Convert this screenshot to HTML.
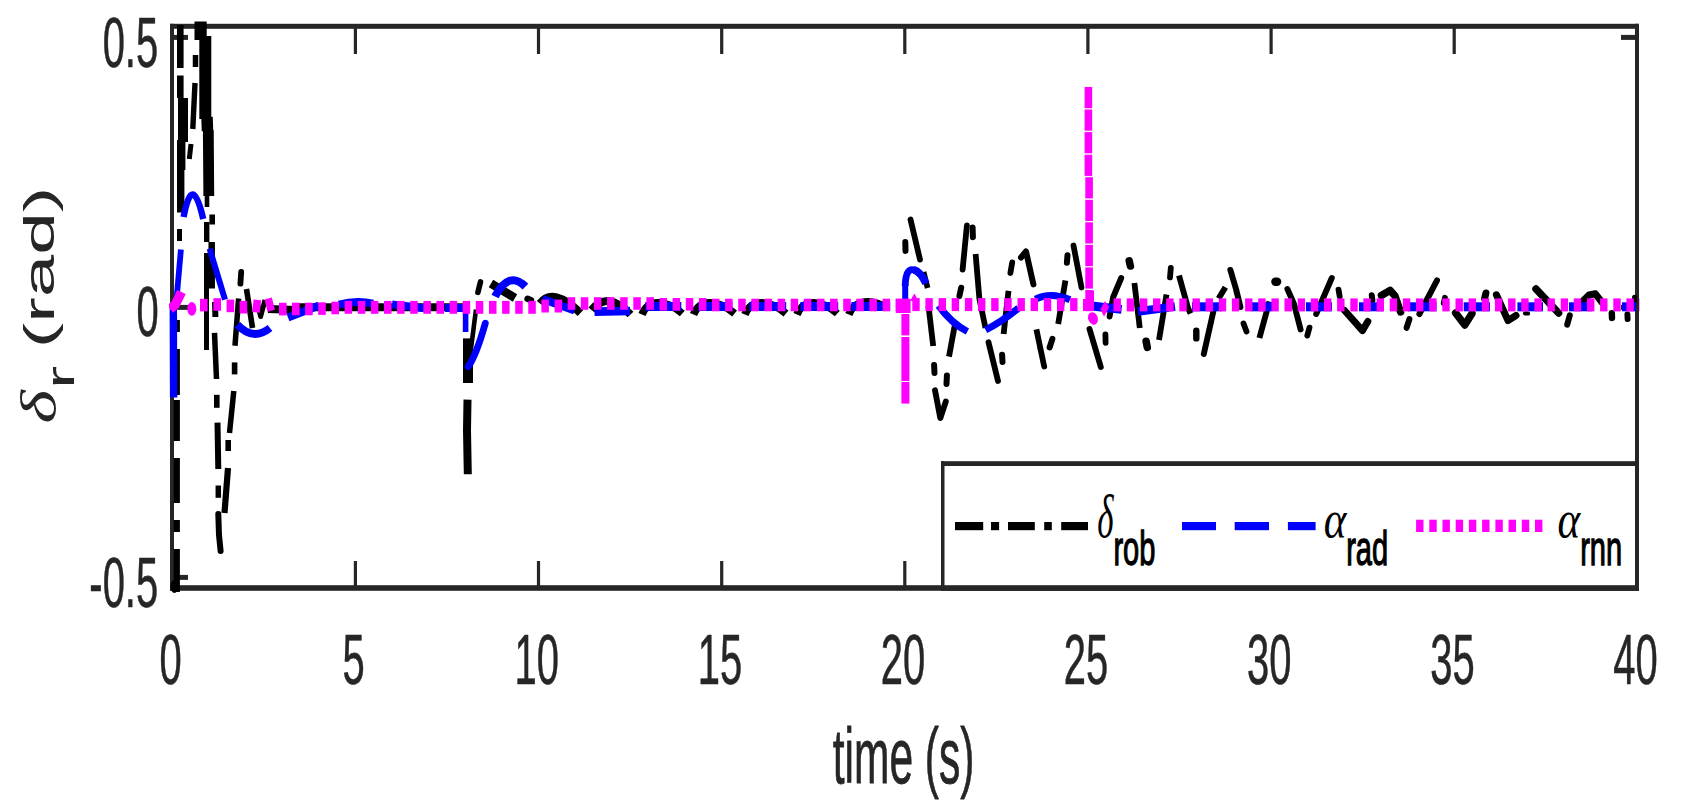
<!DOCTYPE html>
<html lang="en"><head><meta charset="utf-8"><title>delta_r plot</title>
<style>html,body{margin:0;padding:0;background:#fff}svg{display:block}</style></head>
<body>
<svg width="1693" height="810" viewBox="0 0 1693 810">
<rect x="0" y="0" width="1693" height="810" fill="#ffffff"/>
<rect x="170" y="23.8" width="1469" height="5" fill="#262626"/>
<rect x="170" y="585.2" width="1469" height="5.6" fill="#262626"/>
<rect x="170" y="23.8" width="4" height="567" fill="#262626"/>
<rect x="1635" y="23.8" width="4" height="567" fill="#262626"/>
<rect x="353.8" y="28" width="3.2" height="26" fill="#262626"/>
<rect x="353.8" y="561" width="3.2" height="25" fill="#262626"/>
<rect x="536.9" y="28" width="3.2" height="26" fill="#262626"/>
<rect x="536.9" y="561" width="3.2" height="25" fill="#262626"/>
<rect x="720.1" y="28" width="3.2" height="26" fill="#262626"/>
<rect x="720.1" y="561" width="3.2" height="25" fill="#262626"/>
<rect x="903.2" y="28" width="3.2" height="26" fill="#262626"/>
<rect x="903.2" y="561" width="3.2" height="25" fill="#262626"/>
<rect x="1086.3" y="28" width="3.2" height="26" fill="#262626"/>
<rect x="1086.3" y="561" width="3.2" height="25" fill="#262626"/>
<rect x="1269.5" y="28" width="3.2" height="26" fill="#262626"/>
<rect x="1269.5" y="561" width="3.2" height="25" fill="#262626"/>
<rect x="1452.6" y="28" width="3.2" height="26" fill="#262626"/>
<rect x="1452.6" y="561" width="3.2" height="25" fill="#262626"/>
<rect x="173" y="34.9" width="15" height="5" fill="#262626"/>
<rect x="1621" y="34.9" width="15" height="5" fill="#262626"/>
<rect x="173" y="304.9" width="15" height="5" fill="#262626"/>
<rect x="1621" y="304.9" width="15" height="5" fill="#262626"/>
<rect x="173" y="574.9" width="15" height="5" fill="#262626"/>
<rect x="1621" y="574.9" width="15" height="5" fill="#262626"/>
<defs><clipPath id="axclip"><rect x="169" y="21.5" width="1471" height="571.5"/></clipPath></defs>
<g clip-path="url(#axclip)" stroke-linejoin="round">
<line x1="176.8" y1="320.0" x2="176.8" y2="332.0" stroke="#000000" stroke-width="6.2" stroke-linecap="butt"/>
<line x1="176.8" y1="349.0" x2="176.8" y2="395.0" stroke="#000000" stroke-width="6.2" stroke-linecap="butt"/>
<line x1="176.8" y1="400.0" x2="176.8" y2="441.0" stroke="#000000" stroke-width="6.2" stroke-linecap="butt"/>
<line x1="176.8" y1="458.0" x2="176.8" y2="503.0" stroke="#000000" stroke-width="6.2" stroke-linecap="butt"/>
<line x1="176.8" y1="520.0" x2="176.8" y2="532.0" stroke="#000000" stroke-width="6.2" stroke-linecap="butt"/>
<line x1="176.8" y1="549.0" x2="176.8" y2="592.0" stroke="#000000" stroke-width="6.2" stroke-linecap="butt"/>
<ellipse cx="174.4" cy="586.5" rx="4" ry="6.5" fill="#000000"/>
<line x1="180.3" y1="25.0" x2="180.3" y2="68.0" stroke="#000000" stroke-width="6.6" stroke-linecap="butt"/>
<line x1="180.3" y1="75.5" x2="180.3" y2="98.0" stroke="#000000" stroke-width="6.6" stroke-linecap="butt"/>
<line x1="183.0" y1="98.0" x2="183.0" y2="142.0" stroke="#000000" stroke-width="10" stroke-linecap="butt"/>
<line x1="181.2" y1="140.0" x2="181.2" y2="170.0" stroke="#000000" stroke-width="8.4" stroke-linecap="butt"/>
<line x1="180.7" y1="170.0" x2="180.7" y2="212.6" stroke="#000000" stroke-width="7.4" stroke-linecap="butt"/>
<line x1="179.5" y1="229.0" x2="179.5" y2="241.0" stroke="#000000" stroke-width="5" stroke-linecap="butt"/>
<line x1="195.5" y1="55.0" x2="195.5" y2="67.0" stroke="#000000" stroke-width="5.5" stroke-linecap="butt"/>
<line x1="195.0" y1="83.0" x2="192.8" y2="129.0" stroke="#000000" stroke-width="5.4" stroke-linecap="butt"/>
<line x1="191.0" y1="144.0" x2="189.3" y2="159.0" stroke="#000000" stroke-width="5" stroke-linecap="butt"/>
<line x1="200.6" y1="21.0" x2="200.6" y2="40.0" stroke="#000000" stroke-width="12.2" stroke-linecap="butt"/>
<line x1="205.3" y1="36.0" x2="205.3" y2="119.0" stroke="#000000" stroke-width="12" stroke-linecap="butt"/>
<line x1="207.0" y1="117.0" x2="207.5" y2="131.0" stroke="#000000" stroke-width="11.5" stroke-linecap="butt"/>
<line x1="208.3" y1="130.0" x2="208.8" y2="196.0" stroke="#000000" stroke-width="10.8" stroke-linecap="butt"/>
<line x1="207.0" y1="196.0" x2="207.0" y2="207.0" stroke="#000000" stroke-width="4.6" stroke-linecap="butt"/>
<line x1="206.7" y1="222.0" x2="206.7" y2="242.0" stroke="#000000" stroke-width="5.4" stroke-linecap="butt"/>
<line x1="206.5" y1="253.0" x2="206.5" y2="350.0" stroke="#000000" stroke-width="5" stroke-linecap="butt"/>
<line x1="212.2" y1="214.4" x2="212.2" y2="224.6" stroke="#000000" stroke-width="5.6" stroke-linecap="butt"/>
<line x1="211.7" y1="242.0" x2="211.7" y2="288.5" stroke="#000000" stroke-width="6.5" stroke-linecap="butt"/>
<line x1="215.0" y1="302.0" x2="215.4" y2="317.0" stroke="#000000" stroke-width="6" stroke-linecap="butt"/>
<line x1="214.5" y1="332.8" x2="216.5" y2="379.0" stroke="#000000" stroke-width="5.5" stroke-linecap="butt"/>
<line x1="216.8" y1="394.8" x2="216.8" y2="407.8" stroke="#000000" stroke-width="5.6" stroke-linecap="butt"/>
<line x1="217.5" y1="422.6" x2="218.3" y2="469.0" stroke="#000000" stroke-width="6" stroke-linecap="butt"/>
<line x1="218.3" y1="485.5" x2="218.3" y2="497.8" stroke="#000000" stroke-width="5.5" stroke-linecap="butt"/>
<path d="M218.3,514.0 L219.0,535.0 L220.6,551.0" fill="none" stroke="#000000" stroke-width="6" stroke-linecap="round"/>
<line x1="224.5" y1="513.0" x2="228.0" y2="468.0" stroke="#000000" stroke-width="6.2" stroke-linecap="butt"/>
<line x1="228.2" y1="451.0" x2="228.2" y2="440.0" stroke="#000000" stroke-width="5.6" stroke-linecap="butt"/>
<line x1="229.5" y1="433.0" x2="233.8" y2="391.0" stroke="#000000" stroke-width="5.5" stroke-linecap="butt"/>
<line x1="234.6" y1="374.4" x2="234.6" y2="362.4" stroke="#000000" stroke-width="5.6" stroke-linecap="butt"/>
<line x1="235.0" y1="345.7" x2="238.6" y2="298.5" stroke="#000000" stroke-width="5.5" stroke-linecap="butt"/>
<line x1="240.4" y1="283.7" x2="241.2" y2="272.0" stroke="#000000" stroke-width="5.8" stroke-linecap="round"/>
<line x1="246.5" y1="289.0" x2="252.5" y2="328.0" stroke="#000000" stroke-width="5.6" stroke-linecap="butt"/>
<path d="M257.0,302.0 L260.6,316.5 L265.0,300.0" fill="none" stroke="#000000" stroke-width="5" stroke-linecap="butt"/>
<line x1="268.0" y1="309.0" x2="296.0" y2="310.0" stroke="#000000" stroke-width="8" stroke-linecap="butt"/>
<path d="M296,307.2 L463,307.2" fill="none" stroke="#000000" stroke-width="8"/>
<line x1="468.0" y1="338.4" x2="468.0" y2="383.0" stroke="#000000" stroke-width="10" stroke-linecap="butt"/>
<path d="M467.5,399.6 L467.0,430.0 L467.8,474.3" fill="none" stroke="#000000" stroke-width="8" stroke-linecap="butt"/>
<line x1="470.3" y1="354.0" x2="476.0" y2="309.5" stroke="#000000" stroke-width="4.6" stroke-linecap="butt"/>
<line x1="477.9" y1="292.4" x2="480.5" y2="281.9" stroke="#000000" stroke-width="5.6" stroke-linecap="round"/>
<line x1="491.0" y1="283.5" x2="515.0" y2="298.0" stroke="#000000" stroke-width="8.5" stroke-linecap="butt"/>
<line x1="527.6" y1="298.8" x2="530.9" y2="300.2" stroke="#000000" stroke-width="6.5" stroke-linecap="round"/>
<path d="M540.0,303.5 Q553.0,286.5 580.5,313.0" fill="none" stroke="#000000" stroke-width="8" stroke-linecap="butt"/>
<path d="M591.5,310.0 Q608.0,290.0 630.5,314.5" fill="none" stroke="#000000" stroke-width="8" stroke-linecap="butt"/>
<path d="M642.0,314.5 C648.0,299.5 665.0,298.5 682.3,313.5" fill="none" stroke="#000000" stroke-width="7.6"/>
<path d="M693.5,314.5 C699.5,299.5 716.5,298.5 734.6,313.5" fill="none" stroke="#000000" stroke-width="7.6"/>
<path d="M744.9,314.5 C750.9,299.5 767.9,298.5 786.0,313.5" fill="none" stroke="#000000" stroke-width="7.6"/>
<path d="M797.0,314.5 C803.0,299.5 820.0,298.5 837.3,313.5" fill="none" stroke="#000000" stroke-width="7.6"/>
<path d="M848.8,314.5 C854.8,299.5 871.8,298.5 887.0,308" fill="none" stroke="#000000" stroke-width="7.6"/>
<line x1="905.3" y1="242.1" x2="905.5" y2="250.9" stroke="#000000" stroke-width="6" stroke-linecap="round"/>
<path d="M910.5,219.5 L920.0,259.6" fill="none" stroke="#000000" stroke-width="5.8" stroke-linecap="round"/>
<line x1="923.6" y1="272.0" x2="927.6" y2="288.0" stroke="#000000" stroke-width="5.6" stroke-linecap="butt"/>
<line x1="928.5" y1="306.0" x2="933.2" y2="346.0" stroke="#000000" stroke-width="5.8" stroke-linecap="butt"/>
<line x1="934.1" y1="365.1" x2="934.5" y2="372.9" stroke="#000000" stroke-width="6" stroke-linecap="round"/>
<path d="M935.0,390.3 L940.3,418.0 L945.8,401.6" fill="none" stroke="#000000" stroke-width="5.9" stroke-linecap="round"/>
<line x1="946.5" y1="383.9" x2="946.9" y2="375.6" stroke="#000000" stroke-width="6" stroke-linecap="round"/>
<line x1="949.0" y1="356.6" x2="955.5" y2="321.3" stroke="#000000" stroke-width="5.8" stroke-linecap="butt"/>
<line x1="959.4" y1="296.2" x2="961.2" y2="287.7" stroke="#000000" stroke-width="6" stroke-linecap="round"/>
<path d="M962.6,269.6 L966.9,225.5" fill="none" stroke="#000000" stroke-width="5.8" stroke-linecap="round"/>
<line x1="972.6" y1="227.6" x2="972.9" y2="237.2" stroke="#000000" stroke-width="6" stroke-linecap="round"/>
<path d="M975.6,254.0 L979.4,299.0 L985.5,328.0" fill="none" stroke="#000000" stroke-width="5.8" stroke-linecap="butt"/>
<path d="M988.5,342.2 L998.0,381.0" fill="none" stroke="#000000" stroke-width="5.8" stroke-linecap="round"/>
<line x1="1002.1" y1="354.7" x2="1002.5" y2="361.9" stroke="#000000" stroke-width="6" stroke-linecap="round"/>
<line x1="1003.6" y1="334.0" x2="1008.5" y2="290.8" stroke="#000000" stroke-width="5.8" stroke-linecap="butt"/>
<line x1="1010.4" y1="273.0" x2="1012.2" y2="262.4" stroke="#000000" stroke-width="5.8" stroke-linecap="round"/>
<path d="M1021.0,257.5 L1026.0,251.5 L1033.4,284.4" fill="none" stroke="#000000" stroke-width="6" stroke-linecap="round"/>
<line x1="1036.4" y1="329.3" x2="1040.5" y2="349.0" stroke="#000000" stroke-width="5.8" stroke-linecap="butt"/>
<path d="M1040.5,349.0 L1044.2,366.5" fill="none" stroke="#000000" stroke-width="5.8" stroke-linecap="round"/>
<line x1="1049.6" y1="347.5" x2="1052.4" y2="338.8" stroke="#000000" stroke-width="6" stroke-linecap="round"/>
<line x1="1058.2" y1="324.0" x2="1065.4" y2="280.5" stroke="#000000" stroke-width="5.8" stroke-linecap="butt"/>
<line x1="1066.9" y1="262.7" x2="1067.5" y2="255.3" stroke="#000000" stroke-width="6" stroke-linecap="round"/>
<path d="M1073.5,245.5 L1081.5,287.5" fill="none" stroke="#000000" stroke-width="5.8" stroke-linecap="round"/>
<path d="M1089.5,329.0 L1100.8,367.0" fill="none" stroke="#000000" stroke-width="5.9" stroke-linecap="round"/>
<line x1="1105.4" y1="334.4" x2="1105.6" y2="342.8" stroke="#000000" stroke-width="5.8" stroke-linecap="round"/>
<path d="M1109.6,316.5 L1113.2,297.0 L1121.2,278.0" fill="none" stroke="#000000" stroke-width="5.9" stroke-linecap="round"/>
<line x1="1129.2" y1="260.8" x2="1130.4" y2="266.0" stroke="#000000" stroke-width="7.5" stroke-linecap="round"/>
<line x1="1134.4" y1="283.0" x2="1139.8" y2="328.0" stroke="#000000" stroke-width="5.8" stroke-linecap="butt"/>
<line x1="1146.1" y1="341.2" x2="1147.3" y2="347.4" stroke="#000000" stroke-width="7.5" stroke-linecap="round"/>
<line x1="1159.0" y1="340.0" x2="1166.5" y2="294.5" stroke="#000000" stroke-width="5.8" stroke-linecap="butt"/>
<line x1="1170.0" y1="277.4" x2="1170.8" y2="268.0" stroke="#000000" stroke-width="5.8" stroke-linecap="round"/>
<path d="M1179.0,275.5 L1188.0,308.0 L1190.6,313.5" fill="none" stroke="#000000" stroke-width="5.9" stroke-linecap="butt"/>
<line x1="1196.3" y1="330.8" x2="1196.3" y2="338.4" stroke="#000000" stroke-width="6.4" stroke-linecap="round"/>
<path d="M1203.8,354.0 L1214.0,308.7" fill="none" stroke="#000000" stroke-width="5.9" stroke-linecap="round"/>
<line x1="1218.6" y1="298.6" x2="1225.4" y2="287.2" stroke="#000000" stroke-width="5.9" stroke-linecap="butt"/>
<path d="M1230.4,270.0 L1236.0,289.0 L1240.4,307.0" fill="none" stroke="#000000" stroke-width="6" stroke-linecap="round"/>
<line x1="1243.5" y1="323.5" x2="1246.5" y2="331.5" stroke="#000000" stroke-width="5.8" stroke-linecap="round"/>
<line x1="1259.4" y1="338.0" x2="1269.4" y2="301.5" stroke="#000000" stroke-width="5.9" stroke-linecap="butt"/>
<line x1="1275.4" y1="281.7" x2="1277.1" y2="281.7" stroke="#000000" stroke-width="8.4" stroke-linecap="round"/>
<path d="M1287.4,289.0 L1294.0,304.0 L1300.6,329.5" fill="none" stroke="#000000" stroke-width="5.9" stroke-linecap="round"/>
<line x1="1309.5" y1="327.6" x2="1307.3" y2="335.6" stroke="#000000" stroke-width="5.8" stroke-linecap="round"/>
<path d="M1316.2,314.0 L1331.8,278.0" fill="none" stroke="#000000" stroke-width="5.9" stroke-linecap="round"/>
<line x1="1338.5" y1="289.6" x2="1339.7" y2="296.4" stroke="#000000" stroke-width="5.8" stroke-linecap="round"/>
<path d="M1344.6,310.5 L1362.5,330.6 L1367.8,321.5" fill="none" stroke="#000000" stroke-width="7" stroke-linecap="round"/>
<line x1="1371.8" y1="295.3" x2="1372.4" y2="300.3" stroke="#000000" stroke-width="6" stroke-linecap="round"/>
<path d="M1381.4,295.5 L1390.0,290.3 L1395.0,296.0 L1400.6,312.0" fill="none" stroke="#000000" stroke-width="7.4" stroke-linecap="round"/>
<line x1="1409.4" y1="319.2" x2="1406.6" y2="327.8" stroke="#000000" stroke-width="6" stroke-linecap="round"/>
<path d="M1419.4,314.0 L1437.0,280.4" fill="none" stroke="#000000" stroke-width="6" stroke-linecap="round"/>
<line x1="1444.9" y1="297.8" x2="1443.7" y2="303.2" stroke="#000000" stroke-width="5.8" stroke-linecap="round"/>
<path d="M1455.6,313.0 L1464.8,325.0 L1472.0,313.6" fill="none" stroke="#000000" stroke-width="7.4" stroke-linecap="round"/>
<line x1="1485.9" y1="293.0" x2="1484.6" y2="298.6" stroke="#000000" stroke-width="7" stroke-linecap="round"/>
<path d="M1496.4,294.8 L1508.0,320.6 L1516.0,315.5" fill="none" stroke="#000000" stroke-width="7" stroke-linecap="round"/>
<line x1="1524.9" y1="313.4" x2="1528.1" y2="313.6" stroke="#000000" stroke-width="4" stroke-linecap="round"/>
<path d="M1536.0,289.0 L1558.6,313.0" fill="none" stroke="#000000" stroke-width="7.4" stroke-linecap="round"/>
<line x1="1569.8" y1="315.4" x2="1567.2" y2="324.6" stroke="#000000" stroke-width="6" stroke-linecap="round"/>
<path d="M1583.4,300.4 L1589.0,295.0 L1595.4,293.8 L1602.2,302.6" fill="none" stroke="#000000" stroke-width="7" stroke-linecap="round"/>
<line x1="1611.8" y1="313.2" x2="1612.0" y2="318.0" stroke="#000000" stroke-width="6.4" stroke-linecap="round"/>
<line x1="1627.4" y1="314.5" x2="1627.6" y2="319.1" stroke="#000000" stroke-width="5.9" stroke-linecap="round"/>
<line x1="1634.5" y1="297.3" x2="1634.5" y2="300.7" stroke="#000000" stroke-width="5" stroke-linecap="round"/>
<line x1="173.3" y1="304.0" x2="173.6" y2="397.6" stroke="#0000ff" stroke-width="7.4" stroke-linecap="butt"/>
<line x1="176.2" y1="303.0" x2="180.9" y2="249.6" stroke="#0000ff" stroke-width="5.8" stroke-linecap="butt"/>
<path d="M183.6,217.0 Q192.4,171.0 203.2,219.0" fill="none" stroke="#0000ff" stroke-width="6.4" stroke-linecap="butt"/>
<line x1="209.6" y1="248.7" x2="225.0" y2="299.6" stroke="#0000ff" stroke-width="6" stroke-linecap="butt"/>
<path d="M237.4,324.6 Q253.0,341.5 270.0,328.0" fill="none" stroke="#0000ff" stroke-width="7.6" stroke-linecap="butt"/>
<line x1="288.0" y1="317.4" x2="319.0" y2="305.4" stroke="#0000ff" stroke-width="8" stroke-linecap="butt"/>
<path d="M339.0,304.6 Q356.0,300.0 373.0,303.6" fill="none" stroke="#0000ff" stroke-width="8" stroke-linecap="butt"/>
<line x1="392.0" y1="304.4" x2="424.0" y2="308.2" stroke="#0000ff" stroke-width="8" stroke-linecap="butt"/>
<line x1="445.0" y1="308.0" x2="464.0" y2="308.0" stroke="#0000ff" stroke-width="8" stroke-linecap="butt"/>
<line x1="465.6" y1="306.0" x2="465.6" y2="332.0" stroke="#0000ff" stroke-width="5.6" stroke-linecap="butt"/>
<path d="M468.2,366.5 Q476.0,356.0 485.3,323.2" fill="none" stroke="#0000ff" stroke-width="6.8" stroke-linecap="round"/>
<path d="M495.0,296.5 Q509.0,270.0 525.4,286.6" fill="none" stroke="#0000ff" stroke-width="8" stroke-linecap="butt"/>
<line x1="542.5" y1="299.0" x2="574.6" y2="310.4" stroke="#0000ff" stroke-width="8" stroke-linecap="butt"/>
<line x1="594.5" y1="311.6" x2="630.0" y2="311.0" stroke="#0000ff" stroke-width="8.6" stroke-linecap="butt"/>
<line x1="645.4" y1="306.4" x2="681.3" y2="306.4" stroke="#0000ff" stroke-width="9" stroke-linecap="butt"/>
<line x1="698.3" y1="306.4" x2="732.3" y2="306.4" stroke="#0000ff" stroke-width="9" stroke-linecap="butt"/>
<line x1="749.3" y1="306.4" x2="786.2" y2="306.4" stroke="#0000ff" stroke-width="9" stroke-linecap="butt"/>
<line x1="800.4" y1="306.4" x2="838.2" y2="306.4" stroke="#0000ff" stroke-width="9" stroke-linecap="butt"/>
<line x1="851.4" y1="306.4" x2="890.2" y2="306.4" stroke="#0000ff" stroke-width="9" stroke-linecap="butt"/>
<path d="M905.2,300.0 L905.2,284.0" fill="none" stroke="#0000ff" stroke-width="6" stroke-linecap="butt"/>
<path d="M905.2,286.0 Q905.6,267.0 914.5,270.0" fill="none" stroke="#0000ff" stroke-width="6.8" stroke-linecap="butt"/>
<path d="M913.6,269.8 Q920.5,271.5 926.0,283.5" fill="none" stroke="#0000ff" stroke-width="7.6" stroke-linecap="butt"/>
<path d="M938.6,305.6 Q951.0,323.0 967.4,331.5" fill="none" stroke="#0000ff" stroke-width="7" stroke-linecap="butt"/>
<path d="M985.6,330.0 Q1003.0,321.0 1018.6,308.0" fill="none" stroke="#0000ff" stroke-width="7" stroke-linecap="butt"/>
<path d="M1035.4,299.2 Q1051.0,291.6 1070.0,299.8" fill="none" stroke="#0000ff" stroke-width="7" stroke-linecap="butt"/>
<line x1="1091.7" y1="306.0" x2="1121.6" y2="309.4" stroke="#0000ff" stroke-width="9" stroke-linecap="butt"/>
<line x1="1138.0" y1="311.5" x2="1175.0" y2="306.5" stroke="#0000ff" stroke-width="8.4" stroke-linecap="butt"/>
<line x1="1192.0" y1="306.8" x2="1222.0" y2="306.8" stroke="#0000ff" stroke-width="9" stroke-linecap="butt"/>
<line x1="1250.6" y1="306.8" x2="1272.4" y2="306.8" stroke="#0000ff" stroke-width="9" stroke-linecap="butt"/>
<line x1="1306.0" y1="306.8" x2="1332.0" y2="306.8" stroke="#0000ff" stroke-width="9" stroke-linecap="butt"/>
<line x1="1359.0" y1="306.8" x2="1383.6" y2="306.8" stroke="#0000ff" stroke-width="9" stroke-linecap="butt"/>
<line x1="1408.0" y1="306.8" x2="1436.5" y2="306.8" stroke="#0000ff" stroke-width="9" stroke-linecap="butt"/>
<line x1="1463.7" y1="306.8" x2="1490.0" y2="306.8" stroke="#0000ff" stroke-width="9" stroke-linecap="butt"/>
<line x1="1517.4" y1="306.8" x2="1543.0" y2="306.8" stroke="#0000ff" stroke-width="9" stroke-linecap="butt"/>
<line x1="1569.0" y1="306.8" x2="1592.0" y2="306.8" stroke="#0000ff" stroke-width="9" stroke-linecap="butt"/>
<line x1="1622.0" y1="306.8" x2="1636.0" y2="306.8" stroke="#0000ff" stroke-width="9" stroke-linecap="butt"/>
<path d="M170.0,309.0 L175.0,305.0 L181.5,292.0" fill="none" stroke="#ff00ff" stroke-width="9.5" stroke-linecap="butt"/>
<ellipse cx="191.8" cy="308.8" rx="4.6" ry="6.9" fill="#ff00ff"/>
<rect x="200.0" y="298.8" width="7.6" height="12.6" fill="#ff00ff"/>
<rect x="213.4" y="298.2" width="7.6" height="12.6" fill="#ff00ff"/>
<rect x="226.6" y="299.6" width="7.6" height="12.6" fill="#ff00ff"/>
<rect x="239.6" y="300.9" width="7.6" height="12.6" fill="#ff00ff"/>
<rect x="-3.8" y="-6.3" width="7.6" height="12.6" fill="#ff00ff" transform="translate(256.7,306.2) rotate(6)"/>
<rect x="-3.8" y="-6.3" width="7.6" height="12.6" fill="#ff00ff" transform="translate(269.7,304.6) rotate(-14)"/>
<rect x="279.0" y="302.8" width="7.6" height="12.6" fill="#ff00ff"/>
<rect x="292.0" y="302.7" width="7.6" height="12.6" fill="#ff00ff"/>
<rect x="305.1" y="302.7" width="7.6" height="12.6" fill="#ff00ff"/>
<rect x="318.2" y="302.3" width="7.6" height="12.6" fill="#ff00ff"/>
<rect x="331.4" y="301.7" width="7.6" height="12.6" fill="#ff00ff"/>
<rect x="344.6" y="300.9" width="7.5" height="12.9" fill="#ff00ff"/>
<rect x="357.8" y="300.9" width="7.5" height="12.9" fill="#ff00ff"/>
<rect x="370.9" y="300.9" width="7.5" height="12.9" fill="#ff00ff"/>
<rect x="384.0" y="300.9" width="7.5" height="12.9" fill="#ff00ff"/>
<rect x="397.1" y="300.9" width="7.5" height="12.9" fill="#ff00ff"/>
<rect x="410.2" y="300.9" width="7.5" height="12.9" fill="#ff00ff"/>
<rect x="423.4" y="300.9" width="7.5" height="12.9" fill="#ff00ff"/>
<rect x="436.5" y="300.9" width="7.5" height="12.9" fill="#ff00ff"/>
<rect x="449.6" y="300.9" width="7.5" height="12.9" fill="#ff00ff"/>
<rect x="462.7" y="300.9" width="7.5" height="12.9" fill="#ff00ff"/>
<rect x="475.8" y="300.9" width="7.5" height="12.9" fill="#ff00ff"/>
<rect x="489.0" y="300.9" width="7.5" height="12.9" fill="#ff00ff"/>
<rect x="502.1" y="300.9" width="7.5" height="12.9" fill="#ff00ff"/>
<rect x="515.2" y="300.9" width="7.5" height="12.9" fill="#ff00ff"/>
<rect x="528.3" y="300.9" width="7.5" height="12.9" fill="#ff00ff"/>
<rect x="541.4" y="299.6" width="7.5" height="12.9" fill="#ff00ff"/>
<rect x="554.6" y="299.6" width="7.5" height="12.9" fill="#ff00ff"/>
<rect x="567.7" y="297.2" width="7.5" height="12.6" fill="#ff00ff"/>
<rect x="580.8" y="297.2" width="7.5" height="12.6" fill="#ff00ff"/>
<rect x="593.9" y="297.2" width="7.5" height="12.6" fill="#ff00ff"/>
<rect x="607.0" y="297.2" width="7.5" height="12.6" fill="#ff00ff"/>
<rect x="620.2" y="297.2" width="7.5" height="12.6" fill="#ff00ff"/>
<rect x="633.3" y="297.2" width="7.5" height="12.6" fill="#ff00ff"/>
<rect x="646.4" y="297.2" width="7.5" height="12.6" fill="#ff00ff"/>
<rect x="659.5" y="298.0" width="7.5" height="12.6" fill="#ff00ff"/>
<rect x="672.6" y="298.0" width="7.5" height="12.6" fill="#ff00ff"/>
<rect x="685.8" y="298.0" width="7.5" height="12.6" fill="#ff00ff"/>
<rect x="698.9" y="298.0" width="7.5" height="12.6" fill="#ff00ff"/>
<rect x="712.0" y="298.7" width="7.5" height="12.6" fill="#ff00ff"/>
<rect x="725.1" y="298.7" width="7.5" height="12.6" fill="#ff00ff"/>
<rect x="738.2" y="298.7" width="7.5" height="12.6" fill="#ff00ff"/>
<rect x="751.4" y="298.7" width="7.5" height="12.6" fill="#ff00ff"/>
<rect x="764.5" y="298.7" width="7.5" height="12.6" fill="#ff00ff"/>
<rect x="777.6" y="298.7" width="7.5" height="12.6" fill="#ff00ff"/>
<rect x="790.7" y="298.7" width="7.5" height="12.6" fill="#ff00ff"/>
<rect x="803.8" y="298.7" width="7.5" height="12.6" fill="#ff00ff"/>
<rect x="817.0" y="298.7" width="7.5" height="12.6" fill="#ff00ff"/>
<rect x="830.1" y="298.7" width="7.5" height="12.6" fill="#ff00ff"/>
<rect x="843.2" y="298.7" width="7.5" height="12.6" fill="#ff00ff"/>
<rect x="856.3" y="298.7" width="7.5" height="12.6" fill="#ff00ff"/>
<rect x="869.4" y="298.7" width="7.5" height="12.6" fill="#ff00ff"/>
<rect x="882.6" y="298.7" width="7.5" height="12.6" fill="#ff00ff"/>
<rect x="895.7" y="298.7" width="7.5" height="12.6" fill="#ff00ff"/>
<line x1="905.4" y1="298.8" x2="905.4" y2="312.5" stroke="#ff00ff" stroke-width="8" stroke-linecap="butt"/>
<line x1="905.4" y1="314.0" x2="905.4" y2="335.4" stroke="#ff00ff" stroke-width="8" stroke-linecap="butt"/>
<line x1="905.4" y1="337.0" x2="905.4" y2="381.0" stroke="#ff00ff" stroke-width="8" stroke-linecap="butt"/>
<line x1="905.4" y1="382.0" x2="905.4" y2="403.6" stroke="#ff00ff" stroke-width="8" stroke-linecap="butt"/>
<rect x="895.8" y="298.8" width="14.8" height="14.2" fill="#ff00ff"/>
<path d="M910,301 L914.4,293.6 L918.6,301 Z" fill="#ff00ff"/>
<rect x="912.3" y="298.1" width="7.4" height="13" fill="#ff00ff"/>
<rect x="925.4" y="298.1" width="7.4" height="13" fill="#ff00ff"/>
<rect x="938.6" y="298.1" width="7.4" height="13" fill="#ff00ff"/>
<rect x="951.7" y="298.1" width="7.4" height="13" fill="#ff00ff"/>
<rect x="964.9" y="298.1" width="7.4" height="13" fill="#ff00ff"/>
<rect x="978.0" y="298.1" width="7.4" height="13" fill="#ff00ff"/>
<rect x="991.2" y="298.1" width="7.4" height="13" fill="#ff00ff"/>
<rect x="1004.3" y="298.1" width="7.4" height="13" fill="#ff00ff"/>
<rect x="1017.5" y="298.1" width="7.4" height="13" fill="#ff00ff"/>
<rect x="1030.6" y="298.1" width="7.4" height="13" fill="#ff00ff"/>
<rect x="1043.8" y="298.1" width="7.4" height="13" fill="#ff00ff"/>
<rect x="1057.0" y="298.1" width="7.4" height="13" fill="#ff00ff"/>
<rect x="1070.1" y="298.1" width="7.4" height="13" fill="#ff00ff"/>
<rect x="1084.6" y="87.0" width="7.6" height="21.2" fill="#ff00ff"/>
<rect x="1084.6" y="109.5" width="7.6" height="21.2" fill="#ff00ff"/>
<rect x="1084.6" y="132.1" width="7.6" height="21.2" fill="#ff00ff"/>
<rect x="1084.6" y="154.7" width="7.6" height="21.2" fill="#ff00ff"/>
<rect x="1085.3" y="177.2" width="7.6" height="21.2" fill="#ff00ff"/>
<rect x="1085.3" y="199.8" width="7.6" height="21.2" fill="#ff00ff"/>
<rect x="1085.3" y="222.3" width="7.6" height="21.2" fill="#ff00ff"/>
<rect x="1085.3" y="244.9" width="7.6" height="21.2" fill="#ff00ff"/>
<rect x="1085.3" y="267.4" width="7.6" height="21.2" fill="#ff00ff"/>
<rect x="1085.3" y="290.0" width="7.6" height="21.2" fill="#ff00ff"/>
<rect x="1086.6" y="290.6" width="7.4" height="10" fill="#ff00ff"/>
<rect x="1083" y="299" width="11" height="12" fill="#ff00ff"/>
<ellipse cx="1093" cy="318.4" rx="4.8" ry="6.4" fill="#ff00ff" transform="rotate(-20 1093 318.4)"/>
<path d="M1100.4,309 L1105,301 L1109.3,307 L1104,316.8 Z" fill="#ff00ff"/>
<rect x="1113.5" y="298.4" width="7.4" height="13" fill="#ff00ff"/>
<rect x="1126.7" y="298.4" width="7.4" height="13" fill="#ff00ff"/>
<rect x="1139.9" y="298.4" width="7.4" height="13" fill="#ff00ff"/>
<rect x="1153.0" y="298.4" width="7.4" height="13" fill="#ff00ff"/>
<rect x="1166.2" y="298.4" width="7.4" height="13" fill="#ff00ff"/>
<rect x="1179.3" y="298.4" width="7.4" height="13" fill="#ff00ff"/>
<rect x="1192.5" y="298.4" width="7.4" height="13" fill="#ff00ff"/>
<rect x="1205.6" y="298.4" width="7.4" height="13" fill="#ff00ff"/>
<rect x="1218.8" y="298.4" width="7.4" height="13" fill="#ff00ff"/>
<rect x="1231.9" y="298.4" width="7.4" height="13" fill="#ff00ff"/>
<rect x="1245.1" y="298.4" width="7.4" height="13" fill="#ff00ff"/>
<rect x="1258.2" y="298.4" width="7.4" height="13" fill="#ff00ff"/>
<rect x="1271.4" y="298.4" width="7.4" height="13" fill="#ff00ff"/>
<rect x="1284.5" y="298.4" width="7.4" height="13" fill="#ff00ff"/>
<rect x="1297.7" y="298.4" width="7.4" height="13" fill="#ff00ff"/>
<rect x="1310.8" y="298.4" width="7.4" height="13" fill="#ff00ff"/>
<rect x="1324.0" y="298.4" width="7.4" height="13" fill="#ff00ff"/>
<rect x="1337.1" y="298.4" width="7.4" height="13" fill="#ff00ff"/>
<rect x="1350.3" y="298.4" width="7.4" height="13" fill="#ff00ff"/>
<rect x="1363.4" y="298.4" width="7.4" height="13" fill="#ff00ff"/>
<rect x="1376.6" y="298.4" width="7.4" height="13" fill="#ff00ff"/>
<rect x="1389.7" y="298.4" width="7.4" height="13" fill="#ff00ff"/>
<rect x="1402.9" y="298.4" width="7.4" height="13" fill="#ff00ff"/>
<rect x="1416.0" y="298.4" width="7.4" height="13" fill="#ff00ff"/>
<rect x="1429.2" y="298.4" width="7.4" height="13" fill="#ff00ff"/>
<rect x="1442.3" y="298.4" width="7.4" height="13" fill="#ff00ff"/>
<rect x="1455.5" y="298.4" width="7.4" height="13" fill="#ff00ff"/>
<rect x="1468.6" y="298.4" width="7.4" height="13" fill="#ff00ff"/>
<rect x="1481.8" y="298.4" width="7.4" height="13" fill="#ff00ff"/>
<rect x="1494.9" y="298.4" width="7.4" height="13" fill="#ff00ff"/>
<rect x="1508.1" y="298.4" width="7.4" height="13" fill="#ff00ff"/>
<rect x="1521.2" y="298.4" width="7.4" height="13" fill="#ff00ff"/>
<rect x="1534.4" y="298.4" width="7.4" height="13" fill="#ff00ff"/>
<rect x="1547.5" y="298.4" width="7.4" height="13" fill="#ff00ff"/>
<rect x="1560.7" y="298.4" width="7.4" height="13" fill="#ff00ff"/>
<rect x="1573.8" y="298.4" width="7.4" height="13" fill="#ff00ff"/>
<rect x="1587.0" y="298.4" width="7.4" height="13" fill="#ff00ff"/>
<rect x="1600.1" y="298.4" width="7.4" height="13" fill="#ff00ff"/>
<rect x="1613.3" y="298.4" width="7.4" height="13" fill="#ff00ff"/>
<rect x="1626.4" y="298.4" width="7.4" height="13" fill="#ff00ff"/>
<rect x="1639.6" y="298.4" width="7.4" height="13" fill="#ff00ff"/>
</g>
<rect x="942.7" y="463.5" width="694.3" height="124.8" fill="#ffffff" stroke="none"/>
<rect x="941" y="585.2" width="698" height="5.6" fill="#262626"/>
<rect x="1635" y="461.2" width="4" height="129.6" fill="#262626"/>
<rect x="941" y="461.2" width="3.5" height="126" fill="#262626"/>
<rect x="941" y="461.2" width="696" height="4.8" fill="#262626"/>
<text transform="translate(170.5,684.0) scale(0.566,1)" font-family='"Liberation Sans", sans-serif' font-size="70.6" font-style="normal" text-anchor="middle" fill="#262626" stroke="#262626" stroke-width="0.6" stroke-linejoin="round">0</text>
<text transform="translate(353.6,684.0) scale(0.566,1)" font-family='"Liberation Sans", sans-serif' font-size="70.6" font-style="normal" text-anchor="middle" fill="#262626" stroke="#262626" stroke-width="0.6" stroke-linejoin="round">5</text>
<text transform="translate(536.8,684.0) scale(0.566,1)" font-family='"Liberation Sans", sans-serif' font-size="70.6" font-style="normal" text-anchor="middle" fill="#262626" stroke="#262626" stroke-width="0.6" stroke-linejoin="round">10</text>
<text transform="translate(719.9,684.0) scale(0.566,1)" font-family='"Liberation Sans", sans-serif' font-size="70.6" font-style="normal" text-anchor="middle" fill="#262626" stroke="#262626" stroke-width="0.6" stroke-linejoin="round">15</text>
<text transform="translate(903.0,684.0) scale(0.566,1)" font-family='"Liberation Sans", sans-serif' font-size="70.6" font-style="normal" text-anchor="middle" fill="#262626" stroke="#262626" stroke-width="0.6" stroke-linejoin="round">20</text>
<text transform="translate(1086.1,684.0) scale(0.566,1)" font-family='"Liberation Sans", sans-serif' font-size="70.6" font-style="normal" text-anchor="middle" fill="#262626" stroke="#262626" stroke-width="0.6" stroke-linejoin="round">25</text>
<text transform="translate(1269.2,684.0) scale(0.566,1)" font-family='"Liberation Sans", sans-serif' font-size="70.6" font-style="normal" text-anchor="middle" fill="#262626" stroke="#262626" stroke-width="0.6" stroke-linejoin="round">30</text>
<text transform="translate(1452.4,684.0) scale(0.566,1)" font-family='"Liberation Sans", sans-serif' font-size="70.6" font-style="normal" text-anchor="middle" fill="#262626" stroke="#262626" stroke-width="0.6" stroke-linejoin="round">35</text>
<text transform="translate(1635.5,684.0) scale(0.566,1)" font-family='"Liberation Sans", sans-serif' font-size="70.6" font-style="normal" text-anchor="middle" fill="#262626" stroke="#262626" stroke-width="0.6" stroke-linejoin="round">40</text>
<text transform="translate(158.2,67.0) scale(0.566,1)" font-family='"Liberation Sans", sans-serif' font-size="70.6" font-style="normal" text-anchor="end" fill="#262626" stroke="#262626" stroke-width="0.6" stroke-linejoin="round">0.5</text>
<text transform="translate(158.7,336.2) scale(0.566,1)" font-family='"Liberation Sans", sans-serif' font-size="70.6" font-style="normal" text-anchor="end" fill="#262626" stroke="#262626" stroke-width="0.6" stroke-linejoin="round">0</text>
<text transform="translate(158.2,606.6) scale(0.566,1)" font-family='"Liberation Sans", sans-serif' font-size="70.6" font-style="normal" text-anchor="end" fill="#262626" stroke="#262626" stroke-width="0.6" stroke-linejoin="round">-0.5</text>
<text transform="translate(903.6,783.4) scale(0.552,1)" font-family='"Liberation Sans", sans-serif' font-size="77" font-style="normal" text-anchor="middle" fill="#262626" stroke="#262626" stroke-width="0.8" stroke-linejoin="round">time (s)</text>
<text transform="translate(56.3,423.5) rotate(-90) scale(1.436,1)" font-family='"Liberation Serif", "DejaVu Serif", serif' font-size="50" font-style="italic" text-anchor="start" fill="#262626">δ</text>
<text transform="translate(74.4,388.8) rotate(-90) scale(1.79,1)" font-family='"Liberation Sans", sans-serif' font-size="38.5" font-style="normal" text-anchor="start" fill="#262626">r</text>
<text transform="translate(54.3,348.3) rotate(-90) scale(1.823,1)" font-family='"Liberation Sans", sans-serif' font-size="42" font-style="normal" text-anchor="start" fill="#262626">(rad)</text>
<rect x="955" y="522" width="28.2" height="8.2" fill="#000"/>
<rect x="991" y="522" width="8.1" height="8.2" fill="#000"/>
<rect x="1008" y="522" width="26.8" height="8.2" fill="#000"/>
<rect x="1044.2" y="522" width="7.6" height="8.2" fill="#000"/>
<rect x="1061.2" y="522" width="26.8" height="8.2" fill="#000"/>
<rect x="1182" y="522" width="34.0" height="8.2" fill="#0000ff"/>
<rect x="1234.7" y="522" width="34.3" height="8.2" fill="#0000ff"/>
<rect x="1287.9" y="522" width="27.7" height="8.2" fill="#0000ff"/>
<rect x="1416.1" y="519.7" width="7.4" height="12.3" fill="#ff00ff"/>
<rect x="1429.3" y="519.7" width="7.4" height="12.3" fill="#ff00ff"/>
<rect x="1442.5" y="519.7" width="7.4" height="12.3" fill="#ff00ff"/>
<rect x="1455.7" y="519.7" width="7.4" height="12.3" fill="#ff00ff"/>
<rect x="1468.9" y="519.7" width="7.4" height="12.3" fill="#ff00ff"/>
<rect x="1482.1" y="519.7" width="7.4" height="12.3" fill="#ff00ff"/>
<rect x="1495.4" y="519.7" width="7.4" height="12.3" fill="#ff00ff"/>
<rect x="1508.6" y="519.7" width="7.4" height="12.3" fill="#ff00ff"/>
<rect x="1521.8" y="519.7" width="7.4" height="12.3" fill="#ff00ff"/>
<rect x="1535.0" y="519.7" width="7.4" height="12.3" fill="#ff00ff"/>
<text transform="translate(1097.2,537.3) scale(0.565,1)" font-family='"Liberation Serif", "DejaVu Serif", serif' font-size="62" font-style="italic" text-anchor="start" fill="#000">δ</text>
<text transform="translate(1323.8,536.6) scale(0.83,1)" font-family='"Liberation Serif", "DejaVu Serif", serif' font-size="52" font-style="italic" text-anchor="start" fill="#000">α</text>
<text transform="translate(1557.6,536.6) scale(0.83,1)" font-family='"Liberation Serif", "DejaVu Serif", serif' font-size="52" font-style="italic" text-anchor="start" fill="#000">α</text>
<text transform="translate(1113.4,564.6) scale(0.605,1)" font-family='"Liberation Sans", sans-serif' font-size="48" fill="#000" stroke="#000" stroke-width="1.3">rob</text>
<text transform="translate(1346.2,564.6) scale(0.605,1)" font-family='"Liberation Sans", sans-serif' font-size="48" fill="#000" stroke="#000" stroke-width="1.3">rad</text>
<text transform="translate(1580.2,564.6) scale(0.605,1)" font-family='"Liberation Sans", sans-serif' font-size="48" fill="#000" stroke="#000" stroke-width="1.3">rnn</text>
</svg>
</body></html>
